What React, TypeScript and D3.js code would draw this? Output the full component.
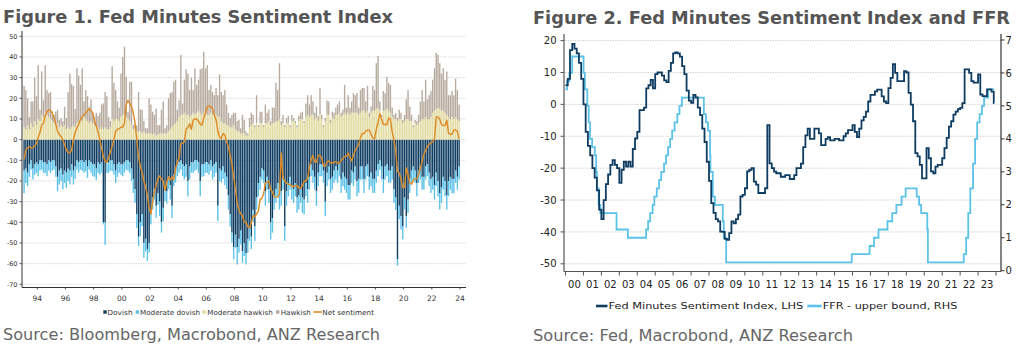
import React from 'react';
import * as d3 from 'd3';

const FIRST_YEAR = 1993;
const PER_YEAR = 8;

// one row per year (1993..2023), 8 meetings per year
const dovish = [
  -15, -14, -16, -12, -10, -14, -12, -11,
  -12, -10, -10, -11, -11, -12, -10, -11,
  -10, -10, -13, -18, -15, -14, -17, -15,
  -16, -14, -15, -12, -15, -13, -10, -11,
  -10, -10, -11, -10, -13, -10, -11, -12,
  -12, -14, -11, -12, -11, -40, -40, -11,
  -11, -10, -10, -12, -15, -12, -11, -12,
  -12, -11, -10, -10, -11, -14, -19, -24,
  -36, -47, -40, -36, -50, -48, -53, -50,
  -35, -28, -24, -32, -26, -30, -40, -33,
  -24, -25, -18, -22, -32, -17, -15, -12,
  -11, -10, -12, -13, -12, -20, -13, -11,
  -11, -10, -10, -11, -20, -12, -12, -11,
  -11, -12, -10, -13, -12, -11, -32, -14,
  -15, -13, -16, -18, -27, -36, -45, -52,
  -46, -52, -48, -44, -54, -50, -55, -48,
  -43, -47, -34, -42, -28, -21, -18, -14,
  -15, -25, -18, -24, -40, -38, -27, -24,
  -21, -27, -25, -18, -42, -25, -21, -18,
  -22, -24, -21, -28, -27, -24, -28, -29,
  -21, -24, -18, -12, -15, -18, -25, -16,
  -12, -12, -15, -30, -16, -13, -19, -18,
  -15, -13, -15, -12, -19, -16, -18, -19,
  -22, -22, -15, -16, -13, -20, -19, -13,
  -13, -19, -13, -12, -18, -16, -19, -19,
  -15, -12, -10, -13, -19, -13, -12, -15,
  -15, -13, -24, -28, -58, -32, -37, -42,
  -28, -37, -29, -19, -15, -13, -15, -21,
  -15, -13, -18, -18, -13, -12, -16, -19,
  -18, -22, -16, -20, -26, -23, -18, -20,
  -27, -20, -18, -19, -19, -15, -18, -13,
];

const moderateDovish = [
  -11, -7, -6.5, -6, -4.5, -5.3, -5, -5.1,
  -5.7, -5, -4.5, -5, -5.1, -5.7, -5, -5.1,
  -5, -4.5, -5, -7, -6.7, -6, -7, -6,
  -7.3, -6, -6.7, -6, -6.7, -6, -4.5, -5,
  -4.5, -5, -5.1, -5.3, -5.5, -4.5, -5, -5.7,
  -6, -5.6, -5.1, -5, -5, -1, -11, -5,
  -5.1, -5, -5.3, -5, -6, -6, -5.1, -5,
  -5.7, -5, -4.5, -5, -5.1, -6, -6.8, -6.6,
  -6.7, -4.5, -6.7, -5.9, -7.2, -6, -5.8, -4.7,
  -6, -5.8, -5, -5.8, -5.4, -7, -5, -6.4,
  -5.8, -6, -6, -7, -5.8, -5.5, -5.9, -5.7,
  -5, -4.5, -5.7, -6.3, -6, -7.4, -6.3, -5,
  -5.1, -5, -4.5, -5, -7.4, -6, -5.7, -5,
  -5.1, -5, -5, -6.3, -6, -5, -7.4, -6,
  -5.9, -6, -6, -6, -6.8, -6, -4.9, -6,
  -6.3, -8.4, -6.7, -6.7, -5.6, -6.3, -5.4, -6.7,
  -6, -6, -6, -7, -5.8, -6.4, -6.2, -5.3,
  -5.9, -7, -6.2, -6.6, -8.3, -7, -6.8, -6.6,
  -6.4, -6.8, -7, -6.2, -7, -7, -6.4, -6.2,
  -7, -6.6, -6.4, -7.4, -6.8, -6.6, -7.4, -7.2,
  -6.4, -6.6, -6.2, -5.7, -5.9, -6.2, -7, -6.5,
  -5.7, -5.7, -5.9, -7, -6.5, -6.3, -6.8, -6.2,
  -5.9, -6.3, -5.9, -5.7, -6.8, -6.5, -6.2, -6.8,
  -7, -7, -5.9, -6.5, -6.3, -7.4, -6.8, -6.3,
  -6.3, -6.8, -6.3, -5.7, -6.2, -6.5, -6.8, -6.8,
  -5.9, -5.7, -4.5, -6.3, -6.8, -6.3, -5.7, -5.9,
  -5.9, -6.3, -6.6, -6, -3, -6.6, -6.5, -6.3,
  -5.8, -5.7, -6.4, -6.8, -5.9, -6.3, -5.9, -6.4,
  -5.9, -6.3, -6.2, -6.2, -6.3, -5.7, -6.5, -6.8,
  -6.2, -7, -6.5, -7.4, -7.8, -7.6, -6.2, -7.4,
  -6.8, -7.4, -6.2, -7, -6.8, -5.9, -6.2, -6.3,
];

const moderateHawkish = [
  6, 5, 7, 5, 8, 6, 9, 7,
  10, 9, 12, 11, 13, 12, 11, 10,
  9, 8, 7, 8, 6, 7, 6, 7,
  5, 6, 5, 6, 7, 6, 8, 9,
  10, 9, 11, 10, 9, 8, 9, 8,
  7, 6, 6, 5, 6, 5, 6, 5,
  5, 6, 10, 9, 10, 10, 9, 11,
  12, 12, 11, 10, 9, 7, 5, 5,
  4, 4, 4, 3, 4, 3, 3, 3,
  3, 2.5, 3, 2, 2.5, 3, 3, 3,
  3, 3, 4, 5, 6, 7, 8, 9,
  11, 12, 12, 13, 12, 12, 11, 12,
  13, 12, 13, 14, 13, 12, 13, 13,
  12, 12, 13, 12, 11, 12, 11, 11,
  9, 8, 8, 7, 7, 6, 6, 7,
  5, 4, 4, 3, 3, 3, 2, 2,
  6, 7, 8, 6, 8, 6, 8, 8,
  6, 8, 8, 9, 7, 8, 8, 9,
  9, 10, 7, 8, 6, 8, 8, 6,
  9, 9, 8, 6, 9, 10, 10, 8,
  11, 12, 11, 12, 12, 10, 11, 9,
  12, 10, 6, 9, 12, 12, 8, 11,
  10, 12, 12, 13, 11, 12, 13, 12,
  13, 12, 13, 13, 13, 13, 12, 13,
  14, 14, 13, 14, 11, 13, 14, 14,
  15, 15, 14, 11, 14, 14, 15, 14,
  13, 11, 10, 10, 9, 10, 10, 8,
  9, 10, 10, 9, 9, 6, 8, 7,
  8, 9, 10, 10, 11, 10, 10, 11,
  13, 14, 15, 15, 15, 14, 14, 13,
  12, 11, 10, 11, 10, 11, 10, 9,
];

const hawkish = [
  20, 19, 13, 6, 10.5, 12.5, 21, 14,
  26, 5.5, 21, 8, 23, 12, 11.5, 13,
  4.5, 4, 6.5, 6.5, 3.5, 3.5, 3, 9,
  5.5, 17, 27, 21, 19, 9, 26.5, 22,
  16.5, 25.5, 7.5, 14, 12, 8, 10.5, 5,
  4, 7, 5.5, 8, 11, 12.5, 17, 16,
  6, 3, 25.5, 18.5, 14, 8.5, 6.5, 21,
  28, 33, 19.5, 3.5, 19, 21, 2, 2.5,
  3, 19, 10.5, 11.5, 5, 2.5, 2.5, 17,
  14, 11, 9, 13, 4.5, 4, 11.5, 15.5,
  2.5, 4, 16, 17.5, 17, 21, 21, 5.5,
  8, 29, 5.5, 16, 22, 20, 13, 18,
  11, 22.5, 13.5, 15, 21, 22.5, 29.5, 21.5,
  24, 12, 13.5, 11, 10.5, 13, 10.5, 20.5,
  14, 13.5, 16, 10, 6, 4.5, 6, 6,
  8, 5, 5.5, 2.5, 9, 6.5, 2, 1,
  4.5, 6, 4, 1, 13.5, 1, 5.5, 5.5,
  1, 9, 5, 5.5, 2, 7.5, 7.5, 18.5,
  15, 27, 2, 4, 1, 2.5, 3.5, 1,
  3, 1.5, 1, 1, 2.5, 3, 3.5, 1,
  6.5, 9.5, 6, 9.5, 6.5, 3, 5, 2.5,
  13, 2, 1, 1.5, 7, 6.5, 1.5, 2.5,
  3, 3.5, 5, 5.5, 2, 2.5, 13.5, 3.5,
  8.5, 3.5, 5.5, 9.5, 8.5, 9.5, 3.5, 11,
  11, 11, 5.5, 12, 2, 3, 12, 10,
  22, 25.5, 4.5, 1, 9.5, 8.5, 15.5, 13.5,
  13.5, 4.5, 2, 3, 1.5, 4.5, 3, 1.5,
  3, 9.5, 14, 7, 3, 1, 1.5, 2,
  4, 9.5, 14, 8.5, 18, 9.5, 11.5, 12.5,
  16, 20.5, 27, 26, 22, 18, 20.5, 16,
  21, 10.5, 11.5, 12.5, 11.5, 18.5, 14, 8,
];

const netSentiment = [
  -9.5, -5, -4, -3.5, -4, -4, -3, -2,
  1, 3.5, 7, 8, 11.5, 13.5, 14.5, 14,
  13, 10.5, 7.5, 4, 2.5, 1.5, 0, -2.5,
  -5, -6, -6.4, -5, 0, 3.5, 5.6, 7.5,
  9.7, 11, 12, 12.9, 14, 15, 14, 13,
  9, 6.5, 4, 0, -4, -8, -10.5, -11,
  -8.9, -6, -3.2, 0, 4, 5, 5.3, 6,
  6, 8, 17, 19, 17.5, 16, 13, 8,
  0, -8.6, -13, -16, -20, -23, -27, -33,
  -36, -30, -25, -22, -19, -17.5, -19, -20,
  -24.6, -20.5, -18, -19.5, -18, -19.5, -14, -10.7,
  -8.6, -1.8, -1.8, -1, 5, 6, 7.7, 5,
  9.5, 10, 10, 9, 7.5, 7, 10.5, 13,
  16, 16.3, 16, 15, 12, 9.5, 4.3, 1.2,
  0.5, 3, 2.2, -1, -3.4, -7.6, -11.8, -18,
  -24, -31, -34, -36, -36.7, -39.9, -40, -42.2,
  -42.5, -40.4, -36.7, -37.3, -36, -34.6, -28.9, -28.4,
  -26.3, -21, -20.5, -20, -24.2, -25.2, -27.8, -27.8,
  -27.8, -26.3, -6.5, -18.5, -20, -21.1, -21.6, -21.6,
  -22.7, -22.7, -22.2, -22.2, -23.4, -23.4, -22.2, -20,
  -20, -18.6, -13.4, -9.7, -7.6, -10.8, -10.8, -7.6,
  -7.6, -9.1, -12.8, -12.8, -10.8, -10.3, -11.3, -11.3,
  -10.8, -10.8, -11.3, -11.3, -10, -9.1, -8.1, -8.1,
  -6.5, -8.6, -10.3, -7.6, -5, -3.9, -2.3, 0.9,
  3, 3, 4.1, 4.6, 4.6, 2.5, 0.9, 0.4,
  5.1, 8.3, 12.6, 9.9, 7.3, 7.3, 7.3, 10.4,
  10, 3.6, -0.1, -5.3, -15.3, -16.3, -19, -23.2,
  -23.2, -13.7, -16.9, -21, -21.6, -19.5, -19, -19,
  -16.9, -13.7, -10.5, -7, -5.3, -3.2, -2.3, -1.5,
  -1.1, 0.4, 11, 11, 9.9, 7.3, 6.8, 6.8,
  9.4, 3.1, 2.6, 2.6, 4.7, 4.7, 4, 0.4,
];

const ffrDates = [
  '2000-01-01', '2000-02-02', '2000-03-21', '2000-05-16', '2001-01-03', '2001-01-31', '2001-03-20',
  '2001-04-18', '2001-05-15', '2001-06-27', '2001-08-21', '2001-09-17', '2001-10-02', '2001-11-06',
  '2001-12-11', '2002-11-06', '2003-06-25', '2004-06-30', '2004-08-10', '2004-09-21', '2004-11-10',
  '2004-12-14', '2005-02-02', '2005-03-22', '2005-05-03', '2005-06-30', '2005-08-09', '2005-09-20',
  '2005-11-01', '2005-12-13', '2006-01-31', '2006-03-28', '2006-05-10', '2006-06-29', '2007-09-18',
  '2007-10-31', '2007-12-11', '2008-01-22', '2008-01-30', '2008-03-18', '2008-04-30', '2008-10-08',
  '2008-10-29', '2008-12-16', '2015-12-16', '2016-12-14', '2017-03-15', '2017-06-14', '2017-12-13',
  '2018-03-21', '2018-06-13', '2018-09-26', '2018-12-19', '2019-07-31', '2019-09-18', '2019-10-30',
  '2020-03-03', '2020-03-15', '2022-03-16', '2022-05-04', '2022-06-15', '2022-07-27', '2022-09-21',
  '2022-11-02', '2022-12-14', '2023-02-01', '2023-03-22', '2023-05-03', '2023-07-26', '2023-11-25',
];
const ffrRates = [
  5.5, 5.75, 6.0, 6.5, 6.0, 5.5, 5.0,
  4.5, 4.0, 3.75, 3.5, 3.0, 2.5, 2.0,
  1.75, 1.25, 1.0, 1.25, 1.5, 1.75, 2.0,
  2.25, 2.5, 2.75, 3.0, 3.25, 3.5, 3.75,
  4.0, 4.25, 4.5, 4.75, 5.0, 5.25, 4.75,
  4.5, 4.25, 3.5, 3.0, 2.25, 2.0, 1.5,
  1.0, 0.25, 0.5, 0.75, 1.0, 1.25, 1.5,
  1.75, 2.0, 2.25, 2.5, 2.25, 2.0, 1.75,
  1.25, 0.25, 0.5, 1.0, 1.75, 2.5, 3.25,
  4.0, 4.5, 4.75, 5.0, 5.25, 5.5, 5.5,
];

const leftYTicks = [50, 40, 30, 20, 10, 0, -10, -20, -30, -40, -50, -60, -70];
const leftXYears = [1994, 1996, 1998, 2000, 2002, 2004, 2006, 2008, 2010, 2012, 2014, 2016, 2018, 2020, 2022, 2024];
const leftXLabels = ['94', '96', '98', '00', '02', '04', '06', '08', '10', '12', '14', '16', '18', '20', '22', '24'];
const rightLTicks = [20, 10, 0, -10, -20, -30, -40, -50];
const rightRTicks = [7, 6, 5, 4, 3, 2, 1, 0];
const rightXYears = [2000, 2001, 2002, 2003, 2004, 2005, 2006, 2007, 2008, 2009, 2010, 2011, 2012, 2013, 2014, 2015, 2016, 2017, 2018, 2019, 2020, 2021, 2022, 2023];
const rightXLabels = ['00', '01', '02', '03', '04', '05', '06', '07', '08', '09', '10', '11', '12', '13', '14', '15', '16', '17', '18', '19', '20', '21', '22', '23'];

const C_DOV = '#0f3d62';
const C_MDOV = '#5cc2e8';
const C_MHAWK = '#e2dba2';
const C_HAWK = '#b7aa9e';
const C_NET = '#df8a22';
const FONT = 'DejaVu Sans, Verdana, sans-serif';

const decYear = (s: string) => {
  const [y, m, d] = s.split('-').map(Number);
  const a = Date.UTC(y, 0, 1);
  const b = Date.UTC(y + 1, 0, 1);
  return y + (Date.UTC(y, m - 1, d) - a) / (b - a);
};

export default function App() {
  // ---------- Left chart ----------
  const xL = d3.scaleLinear().domain([1994, 2024]).range([37.3, 460]);
  const yL = d3.scaleLinear().domain([-70, 50]).range([284.3, 36.3]);
  const keys = ['dovish', 'moderateDovish', 'moderateHawkish', 'hawkish'];
  const colors: Record<string, string> = { dovish: C_DOV, moderateDovish: C_MDOV, moderateHawkish: C_MHAWK, hawkish: C_HAWK };
  const rows = dovish.map((d, i) => ({
    t: FIRST_YEAR + (i + 0.5) / PER_YEAR,
    dovish: d,
    moderateDovish: moderateDovish[i],
    moderateHawkish: moderateHawkish[i],
    hawkish: hawkish[i],
  }));
  const stacked = d3.stack<any>().keys(keys).offset(d3.stackOffsetDiverging)(rows);
  const step = xL(1995) - xL(1994);
  const bw = (step / PER_YEAR) * 0.78;
  const netLine = d3
    .line<number>()
    .x((_, i) => xL(FIRST_YEAR + (i + 0.5) / PER_YEAR))
    .y((d) => yL(d))(netSentiment) as string;

  // ---------- Right chart ----------
  const xR = d3.scaleLinear().domain([2000, 2024]).range([565.5, 996]);
  const yRL = d3.scaleLinear().domain([-50, 20]).range([263.8, 40.6]);
  const yRR = d3.scaleLinear().domain([0, 7]).range([270.7, 40]);
  const idxPts: [number, number][] = [];
  netSentiment.forEach((v, i) => {
    const t = FIRST_YEAR + i / PER_YEAR;
    if (t >= 2000) idxPts.push([t, v]);
  });
  idxPts.push([2023.9, netSentiment[netSentiment.length - 1]]);
  const idxLine = d3
    .line<[number, number]>()
    .curve(d3.curveStepAfter)
    .x((d) => xR(d[0]))
    .y((d) => yRL(d[1]))(idxPts) as string;
  const ffrPts: [number, number][] = ffrDates.map((s, i) => [decYear(s), ffrRates[i]]);
  const ffrLine = d3
    .line<[number, number]>()
    .curve(d3.curveStepAfter)
    .x((d) => xR(d[0]))
    .y((d) => yRR(d[1]))(ffrPts) as string;

  const RL = 564;
  const RR = 1001;
  const RB = 271.5;

  return (
    <svg width={1027} height={356} style={{ position: 'absolute', left: 0, top: 0, background: '#fff' }} fontFamily={FONT}>
      <rect x={0} y={0} width={1027} height={356} fill="#fff" />
      {/* Titles */}
      <text x={3} y={23} fontSize={18.5} fontWeight="bold" fill="#555" textLength={390} lengthAdjust="spacingAndGlyphs">
        Figure 1. Fed Minutes Sentiment Index
      </text>
      <text x={533} y={23.5} fontSize={17.2} fontWeight="bold" fill="#555" textLength={477} lengthAdjust="spacingAndGlyphs">
        Figure 2. Fed Minutes Sentiment Index and FFR
      </text>

      {/* ===== Left chart ===== */}
      <g>
        {leftYTicks.map((v) => (
          <line key={'lg' + v} x1={23} x2={466} y1={yL(v)} y2={yL(v)} stroke="#cfcfcf" strokeWidth={0.8} strokeDasharray="1.5,1" />
        ))}
        {stacked.map((s: any) => (
          <g key={s.key} fill={colors[s.key]}>
            {s.map((p: any, i: number) => {
              const y0 = yL(p[0]);
              const y1 = yL(p[1]);
              return (
                <rect
                  key={i}
                  x={xL(p.data.t) - bw / 2}
                  y={Math.min(y0, y1)}
                  width={bw}
                  height={Math.abs(y1 - y0)}
                />
              );
            })}
          </g>
        ))}
        <path d={netLine} fill="none" stroke={C_NET} strokeWidth={1.4} strokeLinejoin="round" />
        <line x1={22} x2={22} y1={31} y2={287.5} stroke="#333" strokeWidth={1} />
        <line x1={22} x2={466} y1={287.5} y2={287.5} stroke="#333" strokeWidth={1} />
        {leftYTicks.map((v) => (
          <g key={'lt' + v}>
            <line x1={19.5} x2={22} y1={yL(v)} y2={yL(v)} stroke="#333" strokeWidth={0.8} />
            <text x={17.5} y={yL(v)} dy="0.35em" textAnchor="end" fontSize={6.5} fill="#333">
              {v}
            </text>
          </g>
        ))}
        {leftXYears.map((yr, i) => (
          <g key={'lx' + yr}>
            <line x1={xL(yr)} x2={xL(yr)} y1={287.5} y2={289.5} stroke="#333" strokeWidth={0.8} />
            <text x={xL(yr)} y={300.5} textAnchor="middle" fontSize={7.5} fill="#333">
              {leftXLabels[i]}
            </text>
          </g>
        ))}
        {/* legend */}
        <rect x={103.3} y={310.3} width={3.4} height={3.4} fill={C_DOV} />
        <text x={107.3} y={314.5} fontSize={7} fill="#333" textLength={25.4} lengthAdjust="spacingAndGlyphs">Dovish</text>
        <rect x={135.7} y={310.3} width={3.4} height={3.4} fill={C_MDOV} />
        <text x={140} y={314.5} fontSize={7} fill="#333" textLength={60} lengthAdjust="spacingAndGlyphs">Moderate dovish</text>
        <rect x={202.3} y={310.3} width={3.4} height={3.4} fill={C_MHAWK} />
        <text x={207.3} y={314.5} fontSize={7} fill="#333" textLength={65.4} lengthAdjust="spacingAndGlyphs">Moderate hawkish</text>
        <rect x={276} y={310.3} width={3.4} height={3.4} fill={C_HAWK} />
        <text x={280.7} y={314.5} fontSize={7} fill="#333" textLength={30} lengthAdjust="spacingAndGlyphs">Hawkish</text>
        <line x1={313.3} x2={321.7} y1={312} y2={312} stroke={C_NET} strokeWidth={1.6} />
        <text x={322.3} y={314.5} fontSize={7} fill="#333" textLength={51.7} lengthAdjust="spacingAndGlyphs">Net sentiment</text>
        <text x={3} y={340} fontSize={16} fill="#666" textLength={377} lengthAdjust="spacingAndGlyphs">
          Source: Bloomberg, Macrobond, ANZ Research
        </text>
      </g>

      {/* ===== Right chart ===== */}
      <g>
        {rightLTicks.map((v) => (
          <line key={'rg' + v} x1={RL + 1} x2={RR} y1={yRL(v)} y2={yRL(v)} stroke="#cfcfcf" strokeWidth={0.9} strokeDasharray="1.5,1" />
        ))}
        <path d={ffrLine} fill="none" stroke={C_MDOV} strokeWidth={1.8} />
        <path d={idxLine} fill="none" stroke={C_DOV} strokeWidth={1.8} />
        <line x1={RL} x2={RL} y1={34} y2={RB} stroke="#555" strokeWidth={1.2} />
        <line x1={RR} x2={RR} y1={34} y2={RB} stroke="#333" strokeWidth={1.2} />
        <line x1={RL} x2={RR} y1={RB} y2={RB} stroke="#555" strokeWidth={1.2} />
        {rightLTicks.map((v) => (
          <g key={'rlt' + v}>
            <line x1={RL - 3.5} x2={RL} y1={yRL(v)} y2={yRL(v)} stroke="#555" strokeWidth={1} />
            <text x={556.5} y={yRL(v)} dy="0.36em" textAnchor="end" fontSize={10} fill="#222">
              {v}
            </text>
          </g>
        ))}
        {rightRTicks.map((v) => (
          <g key={'rrt' + v}>
            <line x1={RR} x2={RR + 3.5} y1={yRR(v)} y2={yRR(v)} stroke="#333" strokeWidth={1} />
            <text x={1005.5} y={yRR(v)} dy="0.36em" textAnchor="start" fontSize={10} fill="#222">
              {v}
            </text>
          </g>
        ))}
        {rightXYears.map((yr, i) => (
          <g key={'rx' + yr}>
            <line x1={xR(yr)} x2={xR(yr)} y1={RB} y2={RB + 4} stroke="#555" strokeWidth={1} />
            <text x={xR(yr + 0.5)} y={287.5} textAnchor="middle" fontSize={10} fill="#222">
              {rightXLabels[i]}
            </text>
          </g>
        ))}
        <line x1={xR(2024)} x2={xR(2024)} y1={RB} y2={RB + 4} stroke="#555" strokeWidth={1} />
        {/* legend */}
        <line x1={596} x2={607.5} y1={306} y2={306} stroke={C_DOV} strokeWidth={2.6} />
        <text x={608.5} y={309.3} fontSize={9.5} fill="#222" textLength={194.8} lengthAdjust="spacingAndGlyphs">
          Fed Minutes Sentiment Index, LHS
        </text>
        <line x1={807.3} x2={821.7} y1={306} y2={306} stroke={C_MDOV} strokeWidth={2.6} />
        <text x={822.7} y={309.3} fontSize={9.5} fill="#222" textLength={134.6} lengthAdjust="spacingAndGlyphs">
          FFR - upper bound, RHS
        </text>
        <text x={533} y={340.5} fontSize={16} fill="#666" textLength={320} lengthAdjust="spacingAndGlyphs">
          Source: Fed, Macrobond, ANZ Research
        </text>
      </g>
    </svg>
  );
}
